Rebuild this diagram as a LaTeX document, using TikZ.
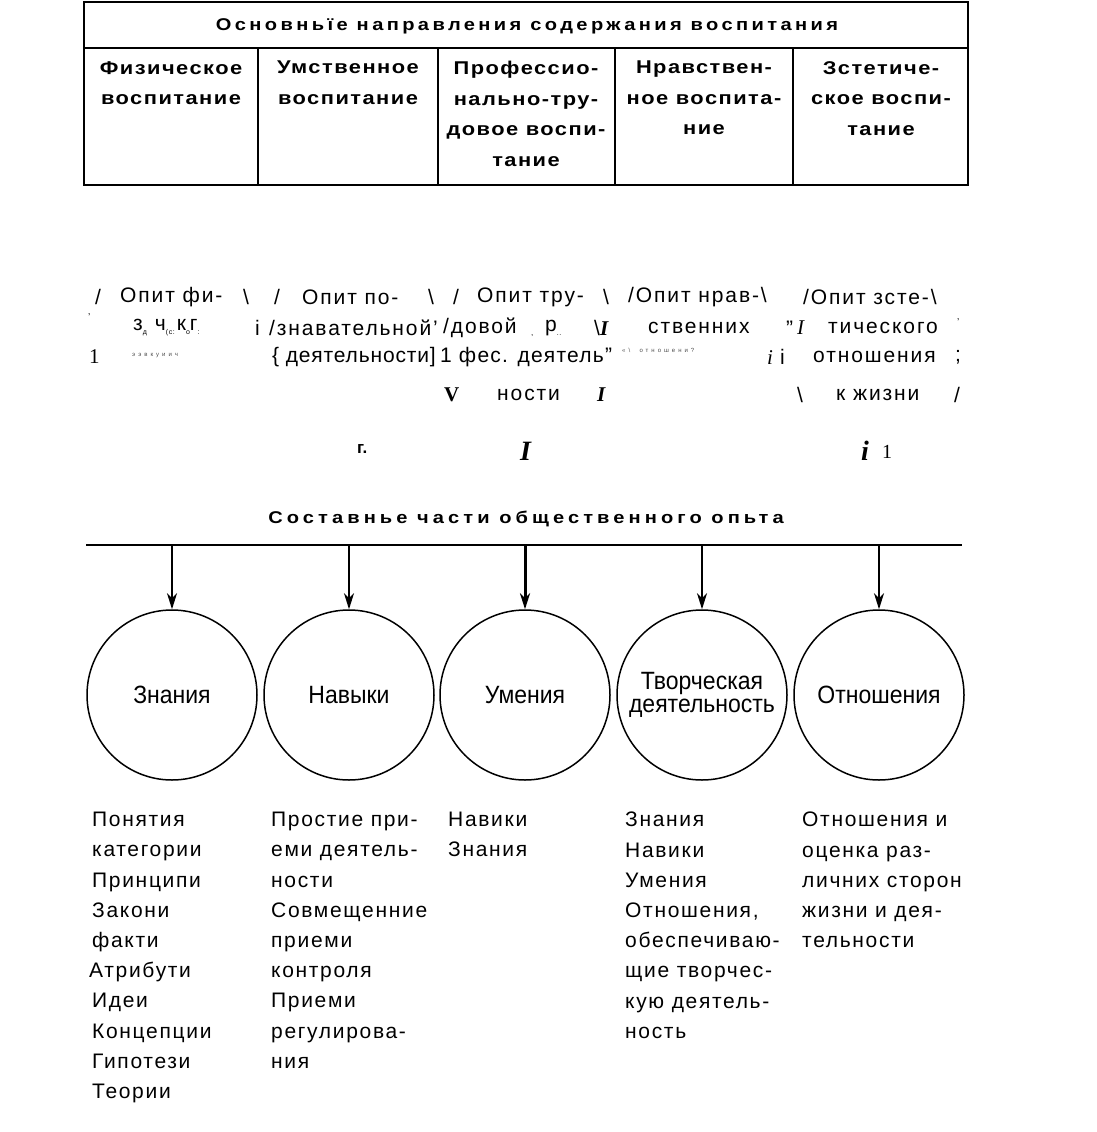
\documentclass[tikz,border=0pt]{standalone}
\usepackage{fontspec}
\setmainfont{Liberation Sans}
\newfontfamily\serifrm{Liberation Serif}
\newfontfamily\narrowsans[FakeStretch=0.92]{Liberation Sans}
\newfontfamily\widebold[FakeStretch=1.18]{Liberation Sans Bold}
\usetikzlibrary{arrows.meta}
\tikzset{
  hdtext/.style={font=\fontsize{17}{20}\selectfont\widebold\addfontfeatures{LetterSpace=20}, inner sep=0pt},
  coltext/.style={font=\fontsize{18.5}{30.5}\selectfont\widebold\addfontfeatures{LetterSpace=8}, align=center, anchor=north, inner sep=0pt},
  mt/.style={font=\fontsize{21}{22}\selectfont\addfontfeatures{LetterSpace=9}, anchor=west, inner sep=0pt},
  sr/.style={font=\fontsize{21}{22}\selectfont\serifrm, anchor=west, inner sep=0pt},
  tiny/.style={font=\fontsize{6}{7}\selectfont\addfontfeatures{LetterSpace=50}, anchor=west, inner sep=0pt, text=black!70},
  listtext/.style={font=\fontsize{21}{30.2}\selectfont\addfontfeatures{LetterSpace=8}, align=left, anchor=north west, inner sep=0pt},
  circ/.style={circle, draw, line width=1.5pt, minimum size=170pt, inner sep=0pt, align=center, font=\fontsize{25}{26}\selectfont\narrowsans},
  tbl/.style={line width=1.8pt},
  arr/.style={line width=1.5pt, -{Stealth[length=16pt, width=10pt, inset=5pt]}},
}
\begin{document}
\begin{tikzpicture}[x=1pt,y=-1pt]
\useasboundingbox[fill=white] (0,0) rectangle (1096,1132);

% ---------- table ----------
\draw[tbl] (84,2) rectangle (968,185);
\draw[tbl] (84,48) -- (968,48);
\foreach \x in {258,438,615,793} \draw[tbl] (\x,48) -- (\x,185);
\node[hdtext] (head) at (527,26) {Основньїе направления содержания воспитания};
\node[coltext] (col1) at (171,61) {Физическое\\воспитание};
\node[coltext] (col2) at (348,61) {Умственное\\воспитание};
\node[coltext] (col3) at (526,61) {Профессио-\\нально-тру-\\довое воспи-\\тание};
\node[coltext] (col4) at (704,61) {Нравствен-\\ное воспита-\\ние};
\node[coltext] (col5) at (881,61) {Зстетиче-\\ское воспи-\\тание};

% ---------- middle (garbled) block ----------
% row 1
\node[mt] (a1) at (95,297) {/};
\node[mt] (a2) at (120,297) {Опит фи-};
\node[mt] (a3) at (243,297) {\textbackslash};
\node[mt] (a4) at (274,297) {/};
\node[mt] (a5) at (302,297) {Опит по-};
\node[mt] (a6) at (428,297) {\textbackslash};
\node[mt] (a7) at (453,297) {/};
\node[mt] (a8) at (477,297) {Опит тру-};
\node[mt] (a9) at (603,297) {\textbackslash};
\node[mt] (a10) at (628,297) {/Опит нрав-\textbackslash};
\node[mt] (a11) at (803,297) {/Опит зсте-\textbackslash};
% row 2
\node[mt, font=\fontsize{10}{10}\selectfont] (b1) at (88,317) {'};
\node[mt] (b2) at (133,328) {з\raisebox{-4pt}{\fontsize{7}{7}\selectfont д}\hspace{8pt}ч\raisebox{-4pt}{\fontsize{7}{7}\selectfont (с:}\hspace{2pt}к\raisebox{-4pt}{\fontsize{7}{7}\selectfont о}г\raisebox{-4pt}{\fontsize{7}{7}\selectfont :}};
\node[mt] (b3) at (255,328) {i};
\node[mt] (b4) at (269,328) {/знавательной'};
\node[mt] (b5) at (443,328) {/довой};
\node[mt, font=\fontsize{8}{8}\selectfont] (b6) at (531,336) {,};
\node[mt] (b7) at (545,328) {р\raisebox{-4pt}{\fontsize{7}{7}\selectfont ..}};
\node[mt] (b8) at (594,328) {\textbackslash{\serifrm\itshape\bfseries I}};
\node[mt] (b9) at (648,328) {ственних};
\node[mt] (b10) at (786,328) {"};
\node[sr, font=\fontsize{21}{22}\selectfont\serifrm\itshape] (b11) at (797,328) {I};
\node[mt] (b12) at (828,328) {тического};
\node[mt, font=\fontsize{10}{10}\selectfont] (b13) at (957,322) {'};
% row 3
\node[sr] (c1t) at (89,357) {1};
\node[tiny] (c2t) at (132,356) {ээвкуиич};
\node[mt, font=\fontsize{21}{22}\selectfont\addfontfeatures{LetterSpace=4}] (c3t) at (272,357) {\{ деятельности]};
\node[mt, font=\fontsize{21}{22}\selectfont\addfontfeatures{LetterSpace=6}] (c4t) at (440,357) {1 фес. деятель"};
\node[tiny] (c5t) at (622,350) {«\textbackslash\ \ отношени?};
\node[sr, font=\fontsize{21}{22}\selectfont\serifrm\itshape] (c6t) at (767,358) {i};
\node[mt] (c7t) at (780,357) {i};
\node[mt] (c8t) at (813,357) {отношения};
\node[mt] (c9t) at (955,357) {;};
% row 4
\node[sr, font=\fontsize{21}{22}\selectfont\serifrm\bfseries] (d1) at (444,395) {V};
\node[mt] (d2) at (497,395) {ности};
\node[sr, font=\fontsize{21}{22}\selectfont\serifrm\itshape\bfseries] (d3) at (597,395) {I};
\node[mt] (d4) at (797,395) {\textbackslash};
\node[mt] (d5) at (836,395) {к жизни};
\node[mt] (d6) at (954,395) {/};
% row 5
\node[mt, font=\fontsize{17}{18}\selectfont\bfseries] (e1) at (357,449) {г.};
\node[sr, font=\fontsize{28}{30}\selectfont\serifrm\itshape\bfseries] (e2) at (520,451) {I};
\node[sr, font=\fontsize{28}{30}\selectfont\serifrm\itshape\bfseries] (e3) at (861,451) {i};
\node[sr, font=\fontsize{20}{22}\selectfont\serifrm] (e4) at (882,452) {1};

% ---------- components of social experience ----------
\node[hdtext, font=\fontsize{17}{20}\selectfont\widebold\addfontfeatures{LetterSpace=24}] (head2) at (526,519) {Составнье части общественного опьта};
\draw[line width=2.2pt] (86,545) -- (962,545);

\node[circ] (k1) at (172,695) {Знания};
\node[circ] (k2) at (349,695) {Навыки};
\node[circ] (k3) at (525,695) {Умения};
\node[circ] (k4) at (702,695) {Творческая\\[-3pt]деятельность};
\node[circ] (k5) at (879,695) {Отношения};

\foreach \i/\x in {1/172,2/349,3/525,4/702,5/879} {
  \coordinate (t\i) at (\x,545);
}
\foreach \i in {1,2,4,5} \draw[arr] (t\i) -- (k\i.north);
\draw[arr, line width=3pt] (t3) -- (k3.north);

% ---------- lists ----------
\node[listtext] (l1) at (92,812) {Понятия\\категории\\Принципи\\Закони\\факти\\\hspace*{-3pt}Атрибути\\Идеи\\Концепции\\Гипотези\\Теории};
\node[listtext] (l2) at (271,812) {Простие при-\\еми деятель-\\ности\\Совмещенние\\приеми\\контроля\\Приеми\\регулирова-\\ния};
\node[listtext] (l3) at (448,812) {Навики\\Знания};
\node[listtext] (l4) at (625,812) {Знания\\Навики\\Умения\\Отношения,\\обеспечиваю-\\щие творчес-\\кую деятель-\\ность};
\node[listtext] (l5) at (802,812) {Отношения и\\оценка раз-\\личних сторон\\жизни и дея-\\тельности};
\end{tikzpicture}
\end{document}
